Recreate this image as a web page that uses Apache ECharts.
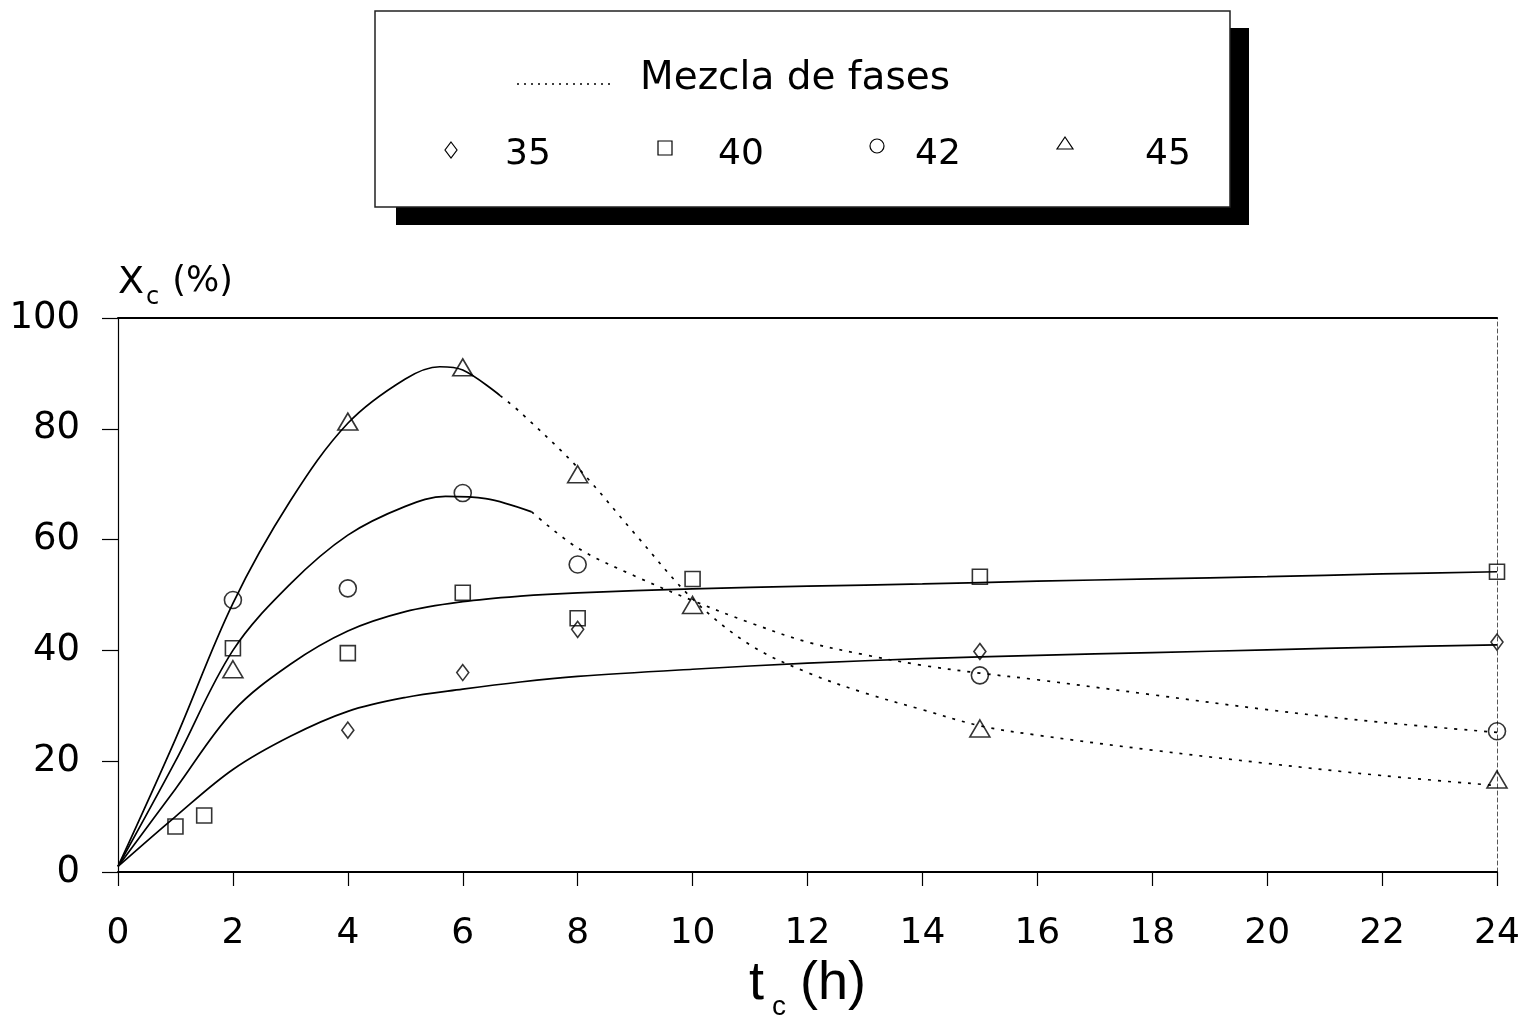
<!DOCTYPE html>
<html><head><meta charset="utf-8">
<script src="https://cdn.jsdelivr.net/npm/echarts@6/dist/echarts.min.js"></script>
<style>html,body{margin:0;padding:0;background:#fff}#c{width:1524px;height:1016px}</style>
</head><body><div id="c"></div>
<script>
// ---- observed data (t_c in h, X_c in %) ----
const t35 = [4, 6, 8, 15, 24];
const x35 = [25.6, 36.0, 43.8, 39.8, 41.5];
const t40 = [1, 1.5, 2, 4, 6, 8, 10, 15, 24];
const x40 = [8.2, 10.2, 40.4, 39.5, 50.4, 45.8, 52.9, 53.3, 54.2];
const t42 = [2, 4, 6, 8, 15, 24];
const x42 = [49.1, 51.2, 68.4, 55.5, 35.5, 25.4];
const t45 = [2, 4, 6, 8, 10, 15, 24];
const x45 = [36.6, 81.3, 91.1, 71.8, 48.2, 25.9, 16.7];

// ---- fitted curves ----
const fit35T = [0, 1, 2, 3, 4, 5, 6, 7, 8, 10, 12, 14, 16, 18, 20, 22, 24];
const fit35Y = [1, 10, 18.5, 24.5, 29, 31.5, 33, 34.3, 35.3, 36.6, 37.7, 38.5, 39.1, 39.6, 40.1, 40.6, 41];
const fit40T = [0, 1, 2, 3, 4, 5, 6, 7, 8, 10, 12, 14, 16, 18, 20, 22, 24];
const fit40Y = [1, 15, 29, 37.5, 43.5, 47, 48.8, 49.8, 50.4, 51.1, 51.6, 52, 52.5, 52.9, 53.3, 53.8, 54.2];
const fit42T = [0, 1, 2, 3, 4, 5, 5.7, 6.4, 7.2];
const fit42Y = [1, 20, 40, 52, 60.8, 66, 67.8, 67.4, 65];
const mix42T = [7.2, 8, 9, 10, 11, 12, 13, 14, 15, 16, 18, 20, 22, 24];
const mix42Y = [65, 58.5, 53.4, 49, 45, 41.5, 39.2, 37.3, 35.9, 34.7, 32, 29.3, 27, 25.2];
const fit45T = [0, 1, 2, 3, 4, 5, 5.6, 6, 6.65];
const fit45Y = [1, 24, 48.5, 67, 81, 89, 91.2, 90.6, 86];
const mix45T = [6.65, 7, 8, 9, 10, 11, 12, 13, 14, 15, 16, 18, 20, 22, 24];
const mix45Y = [86, 83, 73, 61, 49.3, 41, 36, 32.3, 29.3, 26.4, 24.7, 22, 19.6, 17.4, 15.6];

const xTickValues = [0, 2, 4, 6, 8, 10, 12, 14, 16, 18, 20, 22, 24];
const yTickValues = [0, 20, 40, 60, 80, 100];
const legendLabels = ['35', '40', '42', '45'];
const mixLabel = 'Mezcla de fases';

const pairs = (a, b) => a.map((v, i) => [v, b[i]]);
const FONT = 'DejaVu Sans';
const BLK = '#000';

const solid = { color: BLK, width: 1.7, type: 'solid' };
const dotted = { color: BLK, width: 1.7, type: [3, 7] };
const mk = { color: 'rgba(0,0,0,0)', borderColor: BLK, borderWidth: 1.6 };

function curve(name, t, y, ls) {
  return { name, type: 'line', data: pairs(t, y), smooth: 0.35, showSymbol: false,
    symbol: 'none', lineStyle: ls, silent: true, z: 2 };
}
function pts(name, t, y, symbol, size) {
  return { name, type: 'scatter', data: pairs(t, y), symbol, symbolSize: size,
    itemStyle: mk, z: 3 };
}

const chart = echarts.init(document.getElementById('c'));
chart.setOption({
  animation: false,
  backgroundColor: '#fff',
  grid: { left: 118, right: 27, top: 318, bottom: 144, containLabel: false, outerBoundsMode: 'none' },
  xAxis: [{
    type: 'value', min: 0, max: 24, interval: 2,
    axisLine: { show: true, onZero: false, lineStyle: { color: BLK, width: 2 } },
    axisTick: { show: true, length: 14, lineStyle: { color: BLK, width: 1.2 } },
    axisLabel: { color: BLK, fontFamily: FONT, fontSize: 36, margin: 44 },
    splitLine: { show: false },
    name: '{t|t}{s|c}{t|(h)}',
    nameLocation: 'middle', nameGap: 66,
    nameTextStyle: {
      rich: {
        t: { fontFamily: 'Liberation Sans', fontSize: 54, lineHeight: 54, color: BLK, verticalAlign: 'top' },
        s: { fontFamily: 'Liberation Sans', fontSize: 28, lineHeight: 28, color: BLK, verticalAlign: 'top', padding: [36, 14, 0, 8] }
      }
    }
  }, {
    type: 'value', min: 0, max: 24, position: 'top',
    axisLine: { show: true, onZero: false, lineStyle: { color: BLK, width: 2 } },
    axisTick: { show: false }, axisLabel: { show: false }, splitLine: { show: false }
  }],
  yAxis: [{
    type: 'value', min: 0, max: 100, interval: 20,
    axisLine: { show: true, onZero: false, lineStyle: { color: BLK, width: 1.2 } },
    axisTick: { show: true, length: 16, lineStyle: { color: BLK, width: 1.2 } },
    axisLabel: { color: BLK, fontFamily: FONT, fontSize: 37, margin: 38 },
    splitLine: { show: false },
    name: '{x|X}{s|c}{p| (%)}',
    nameLocation: 'end', nameGap: 12,
    nameTextStyle: {
      align: 'left', verticalAlign: 'bottom',
      rich: {
        x: { fontFamily: FONT, fontSize: 38, lineHeight: 40, color: BLK, verticalAlign: 'top' },
        s: { fontFamily: FONT, fontSize: 24, lineHeight: 24, color: BLK, verticalAlign: 'top', padding: [22, 2, 0, 2] },
        p: { fontFamily: FONT, fontSize: 35, lineHeight: 42, color: BLK, verticalAlign: 'top' }
      }
    }
  }, {
    type: 'value', min: 0, max: 100, position: 'right',
    axisLine: { show: true, onZero: false, lineStyle: { color: '#555', width: 1, type: [4, 3] } },
    axisTick: { show: false }, axisLabel: { show: false }, splitLine: { show: false }
  }],
  series: [
    curve('35', fit35T, fit35Y, solid),
    curve('40', fit40T, fit40Y, solid),
    curve('42', fit42T, fit42Y, solid),
    curve('45', fit45T, fit45Y, solid),
    curve(mixLabel, mix42T, mix42Y, dotted),
    curve(mixLabel, mix45T, mix45Y, dotted),
    pts('35', t35, x35, 'diamond', [12, 16]),
    pts('40', t40, x40, 'rect', [15, 15]),
    pts('42', t42, x42, 'circle', 17),
    pts('45', t45, x45, 'triangle', [20, 17])
  ],
  graphic: [
    { type: 'rect', shape: { x: 396, y: 28, width: 853, height: 197 }, style: { fill: BLK }, z: 10 },
    { type: 'rect', shape: { x: 375, y: 11, width: 855, height: 196 }, style: { fill: '#fff', stroke: '#222', lineWidth: 1.5 }, z: 11 },
    { type: 'line', shape: { x1: 517, y1: 84, x2: 612, y2: 84 }, style: { stroke: BLK, lineWidth: 1.5, lineDash: [2, 5] }, z: 12 },
    { type: 'text', x: 640, y: 79, style: { text: mixLabel, fontFamily: FONT, fontSize: 39, fill: BLK, verticalAlign: 'middle', textAlign: 'left' }, z: 12 },
    { type: 'polygon', shape: { points: [[451, 142], [457, 150], [451, 158], [445, 150]] }, style: { fill: 'none', stroke: BLK, lineWidth: 1.2 }, z: 12 },
    { type: 'text', x: 505, y: 155, style: { text: legendLabels[0], fontFamily: FONT, fontSize: 36, fill: BLK, verticalAlign: 'middle' }, z: 12 },
    { type: 'rect', shape: { x: 658, y: 141, width: 14, height: 14 }, style: { fill: 'none', stroke: BLK, lineWidth: 1.2 }, z: 12 },
    { type: 'text', x: 718, y: 155, style: { text: legendLabels[1], fontFamily: FONT, fontSize: 36, fill: BLK, verticalAlign: 'middle' }, z: 12 },
    { type: 'circle', shape: { cx: 877, cy: 146, r: 7 }, style: { fill: 'none', stroke: BLK, lineWidth: 1.2 }, z: 12 },
    { type: 'text', x: 915, y: 155, style: { text: legendLabels[2], fontFamily: FONT, fontSize: 36, fill: BLK, verticalAlign: 'middle' }, z: 12 },
    { type: 'polygon', shape: { points: [[1065, 137], [1073, 149], [1057, 149]] }, style: { fill: 'none', stroke: BLK, lineWidth: 1.2 }, z: 12 },
    { type: 'text', x: 1145, y: 155, style: { text: legendLabels[3], fontFamily: FONT, fontSize: 36, fill: BLK, verticalAlign: 'middle' }, z: 12 }
  ]
});
</script>
</body></html>
